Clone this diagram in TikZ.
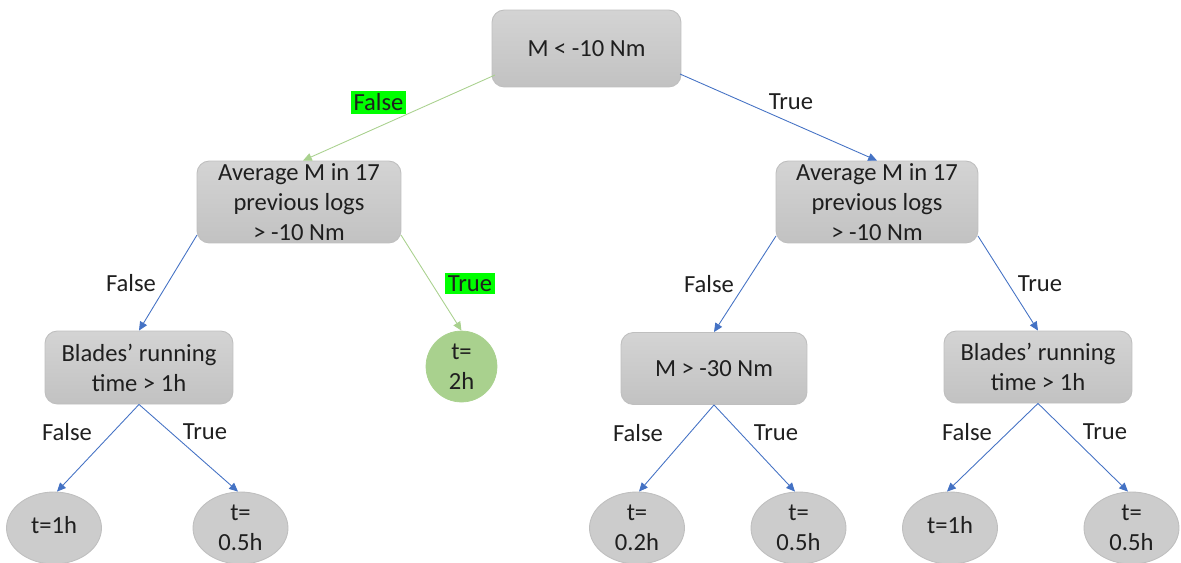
\documentclass[tikz,border=0pt]{standalone}
\usepackage{fontspec}
\setmainfont{Carlito}
\usetikzlibrary{arrows.meta,shapes.geometric}
\definecolor{boxfill}{HTML}{CCCCCC}
\definecolor{boxline}{HTML}{BFBFBF}
\definecolor{leafgreen}{HTML}{A9D18E}
\definecolor{lineblue}{HTML}{4472C4}
\definecolor{hl}{HTML}{00FF00}
\tikzset{
  txt/.style={font=\fontsize{14pt}{17pt}\selectfont, text=black!88, align=center},
  decision/.style={txt, draw=boxline, line width=0.5pt, rounded corners=7pt,
    top color=boxfill!85!white, bottom color=boxfill!95!black, inner sep=0pt},
  leaf/.style={txt, ellipse, draw=boxline, line width=0.5pt, fill=boxfill, inner sep=0pt,
    minimum width=1.9cm, minimum height=1.44cm},
  gleaf/.style={txt, circle, draw=leafgreen, fill=leafgreen, inner sep=0pt, minimum size=1.42cm},
  blue/.style={draw=lineblue, line width=0.5pt, -{Triangle[length=5pt,width=4.5pt]}},
  green/.style={draw=leafgreen, line width=0.5pt, -{Triangle[length=5pt,width=4.5pt]}},
  lbl/.style={txt, inner sep=1.5pt},
  hlbl/.style={txt, fill=hl, inner sep=1.5pt},
}
\begin{document}
\begin{tikzpicture}[x=0.02cm, y=-0.02cm]
\useasboundingbox (0,0) rectangle (1181,562);
\begin{scope}
\clip (0,0) rectangle (1181,562);
% decision nodes
\node[decision, minimum width=3.78cm, minimum height=1.54cm] (root) at (586.5,48.5) {M < -10 Nm};
\node[decision, minimum width=4.08cm, minimum height=1.64cm] (lmid) at (299,202) {Average M in 17\\previous logs\\> -10 Nm};
\node[decision, minimum width=4.04cm, minimum height=1.64cm] (rmid) at (877,202) {Average M in 17\\previous logs\\> -10 Nm};
\node[decision, minimum width=3.76cm, minimum height=1.46cm] (lbl1) at (139,367.5) {Blades’ running\\time > 1h};
\node[decision, minimum width=3.72cm, minimum height=1.44cm] (m30) at (714,368.5) {M > -30 Nm};
\node[decision, minimum width=3.76cm, minimum height=1.44cm] (rbl) at (1038,367) {Blades’ running\\time > 1h};
% leaves
\node[gleaf] (g2h) at (461.5,366.5) {t=\\2h};
\node[leaf] (l1) at (54,528) {\raisebox{4pt}{t=1h}};
\node[leaf] (l2) at (240.5,528) {t=\\0.5h};
\node[leaf] (l3) at (637,528) {t=\\0.2h};
\node[leaf] (l4) at (798.5,528) {t=\\0.5h};
\node[leaf] (l5) at (950,528) {\raisebox{4pt}{t=1h}};
\node[leaf] (l6) at (1131.5,528) {t=\\0.5h};
% coordinates for connector starts
\coordinate (a1) at (495,75);
\coordinate (a2) at (680,74);
\coordinate (b1) at (197,235);
\coordinate (b2) at (401,235);
\coordinate (c1) at (776,236);
\coordinate (c2) at (978,236);
% connectors
\draw[green] (a1) -- ([xshift=0.08cm]lmid.north);
\draw[blue] (a2) -- (rmid.north);
\draw[blue] (b1) -- (lbl1.north);
\draw[green] (b2) -- (g2h.north);
\draw[blue] (c1) -- (m30.north);
\draw[blue] (c2) -- (rbl.north);
\draw[blue] (lbl1.south) -- ([xshift=0.06cm]l1.north);
\draw[blue] (lbl1.south) -- ([xshift=-0.05cm]l2.north);
\draw[blue] (m30.south) -- ([xshift=0.04cm]l3.north);
\draw[blue] (m30.south) -- ([xshift=-0.07cm]l4.north);
\draw[blue] (rbl.south) -- ([xshift=-0.06cm]l5.north);
\draw[blue] (rbl.south) -- ([xshift=-0.07cm]l6.north);
% labels
\node[hlbl] (t1) at (378.5,102.5) {False};
\node[lbl] (t2) at (791,102) {True};
\node[lbl] (t3) at (131,283) {False};
\node[hlbl] (t4) at (470,283.5) {True};
\node[lbl] (t5) at (709,284) {False};
\node[lbl] (t6) at (1040,284) {True};
\node[lbl] (t7) at (67,432) {False};
\node[lbl] (t8) at (205,432) {True};
\node[lbl] (t9) at (638,433) {False};
\node[lbl] (t10) at (776,433) {True};
\node[lbl] (t11) at (967,432) {False};
\node[lbl] (t12) at (1105,432) {True};
\end{scope}
\end{tikzpicture}
\end{document}
